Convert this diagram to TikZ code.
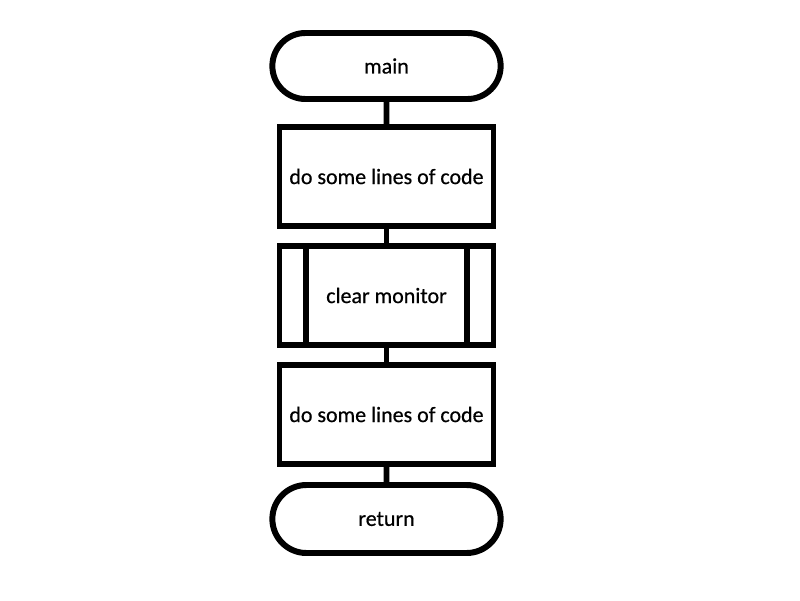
\documentclass[tikz,border=0pt]{standalone}
\usepackage{fontspec}
\setmainfont{Carlito}[FakeBold=0.6]
\usetikzlibrary{positioning, shapes.misc}
\tikzset{every picture/.style={line width=3.4pt}}

\begin{document}
\begin{tikzpicture}[
  terminal/.style={draw, rounded rectangle, minimum width=4.8cm, minimum height=1.32cm, outer sep=0pt, font=\fontsize{12.5}{15}\selectfont},
  process/.style={draw, rectangle, minimum width=4.28cm, minimum height=1.98cm, outer sep=0pt, font=\fontsize{12.5}{15}\selectfont}
]
\useasboundingbox (0,0) rectangle (16,12);
\node[terminal] (main) at (7.73,10.68) {main};
\node[process, below=0.56cm of main] (code1) {do some lines of code};
\node[process, below=0.4cm of code1] (clear) {clear monitor};
\node[process, below=0.4cm of clear] (code2) {do some lines of code};
\node[terminal, minimum height=1.36cm, below=0.42cm of code2] (return) {return};
\draw ([xshift=0.53cm]clear.north west) -- ([xshift=0.53cm]clear.south west);
\draw ([xshift=-0.53cm]clear.north east) -- ([xshift=-0.53cm]clear.south east);
\draw (main) -- (code1);
\draw (code1) -- (clear);
\draw (clear) -- (code2);
\draw (code2) -- (return);
\end{tikzpicture}
\end{document}
